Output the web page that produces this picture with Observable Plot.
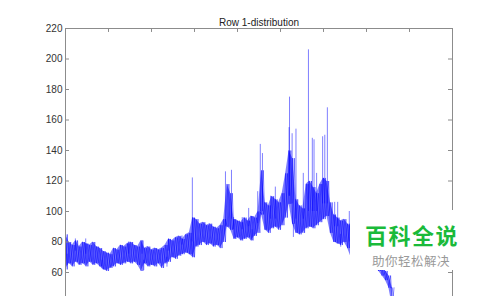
<!DOCTYPE html>
<html><head><meta charset="utf-8">
<script src="https://cdn.jsdelivr.net/npm/d3@7"></script>
<script src="https://cdn.jsdelivr.net/npm/@observablehq/plot@0.6"></script>
<style>
html,body{margin:0;padding:0;background:#fff;overflow:hidden;}
#wrap{position:relative;width:500px;height:296px;overflow:hidden;background:#fff;}
#wm{position:absolute;left:350px;top:210px;width:150px;height:60px;background:#fff;}
#wm1{position:absolute;left:365px;top:218px;font:bold 22px "Noto Sans CJK SC",sans-serif;line-height:normal;letter-spacing:1.5px;color:#1aba3a;white-space:nowrap;}
#wm2{position:absolute;left:372px;top:250.5px;font:12.5px "Noto Sans CJK SC",sans-serif;line-height:normal;letter-spacing:0.5px;color:#999;white-space:nowrap;}
</style></head>
<body>
<div id="wrap"><div id="chart"></div><div id="wm"></div><div id="wm1">百科全说</div><div id="wm2">助你轻松解决</div></div>
<script>
const title = "Row 1-distribution";
const yTicks = [60, 80, 100, 120, 140, 160, 180, 200, 220];
const xTicks = [0, 100, 200, 300, 400, 500, 600, 700, 800, 900];

const binU = [0,8,16,24,32,40,48,56,64,72,80,88,96,104,112,120,128,136,144,152,160,168,176,184,192,200,208,216,224,232,240,248,256,264,272,280,288,296,304,312,320,328,336,344,352,360,368,376,384,392,400,408,416,424,432,440,448,456,464,472,480,488,496,504,512,520,528,536,544,552,560,568,576,584,592,600,608,616,624,632,640,648,656,664,672,680,688,696,704,712,720,728,736,744,752,760];
const bandHi = [85,80,78,81,77,80,79,78,80,77, 76,74,73,72,76,75,78,77,79,80, 78,77,81,76,77,75,76,75,76,78, 82,81,83,84,82,85,86,96,95,92, 93,91,92,90,89,91,95,118,112,95, 94,93,96,94,97,96,100,127,106,104, 110,108,106,112,125,140,135,108,104,102, 118,120,116,112,118,122,120,106,98,96, 94,95,92,90,86,84,82,80,78,76, 74,72,68,61,58,50];
const bandLo = [62,66,64,67,65,66,64,67,65,66, 64,62,61,63,64,66,65,66,67,66, 67,65,61,66,64,65,64,66,63,66, 67,70,69,71,72,73,72,70,77,78, 80,78,79,77,78,76,80,90,88,82, 83,81,82,83,81,84,86,98,88,86, 89,90,88,91,96,105,92,86,85,86, 89,90,89,91,93,95,97,86,80,79, 78,80,76,70,74,72,70,68,67,65, 63,61,58,55,50,38];

// isolated excursions above and below the dense band
const spikeU    = [23,47,147,178,240,271,295,372,386,391,411,426,447,453,458,477,488,520,521,527,536,553,565,574,578,584,598,603,609,626,633,660, 4,85,182,236,297,434,530,640];
const spikeBase = [74,72,72,72,74,78,80,90,95,88,88,90,92,100,100,95,95,110,110,105,95,95,100,100,100,100,105,105,105,90,90,80, 72,68,68,70,80,88,92,85];
const spikeTop  = [82,82,80,81,82,84,122,126,127,96,96,102,113,144,138,110,116,155,175,151,154,125,206,148,147,125,149,150,168,106,106,100, 64.6,62.4,61.3,63.5,70,81,83,76.6];

const band = binU.map((u, i) => ({u, lo: bandLo[i], hi: bandHi[i]}));
const zigA = band.flatMap(d => [{u: d.u, v: d.hi}, {u: d.u + 4, v: d.lo}]);
const zigB = band.flatMap(d => [{u: d.u, v: d.lo}, {u: d.u + 4, v: d.hi}]);
const spikes = spikeU.map((u, i) => ({u, base: spikeBase[i], top: spikeTop[i]}));

const frameColor = "#8c8c8c";
const chart = Plot.plot({
  width: 500, height: 400,
  marginLeft: 65, marginRight: 48, marginTop: 28, marginBottom: 36.5,
  x: {domain: [0, 900], axis: null},
  y: {domain: [0, 220], axis: null},
  style: {fontFamily: "'Liberation Sans', Arial, sans-serif", fontSize: "10px", color: "#333", background: "white"},
  marks: [
    Plot.areaY(band, {x: "u", y1: "lo", y2: "hi", fill: "#0000ff", fillOpacity: 0.5}),
    Plot.line(zigA, {x: "u", y: "v", stroke: "#0000ff", strokeWidth: 0.8, strokeOpacity: 0.6}),
    Plot.line(zigB, {x: "u", y: "v", stroke: "#0000ff", strokeWidth: 0.8, strokeOpacity: 0.6}),
    Plot.ruleX(spikes, {x: "u", y1: "base", y2: "top", stroke: "#0000ff", strokeOpacity: 0.5, strokeWidth: 1}),
    Plot.frame({stroke: frameColor}),
    Plot.ruleX(xTicks, {x: d => d, y1: 220, y2: 217.4, stroke: frameColor}),
    Plot.ruleY(yTicks, {y: d => d, x1: 0, x2: 9.3, stroke: frameColor}),
    Plot.ruleY(yTicks, {y: d => d, x1: 890.7, x2: 900, stroke: frameColor}),
    Plot.axisY(yTicks, {anchor: "left", tickSize: 0, tickPadding: 3, fontSize: 10, fill: "#333"}),
    Plot.text([title], {frameAnchor: "top", dy: -10, fontSize: 10, fill: "#222"})
  ]
});
document.getElementById("chart").appendChild(chart);
</script>
</body></html>
